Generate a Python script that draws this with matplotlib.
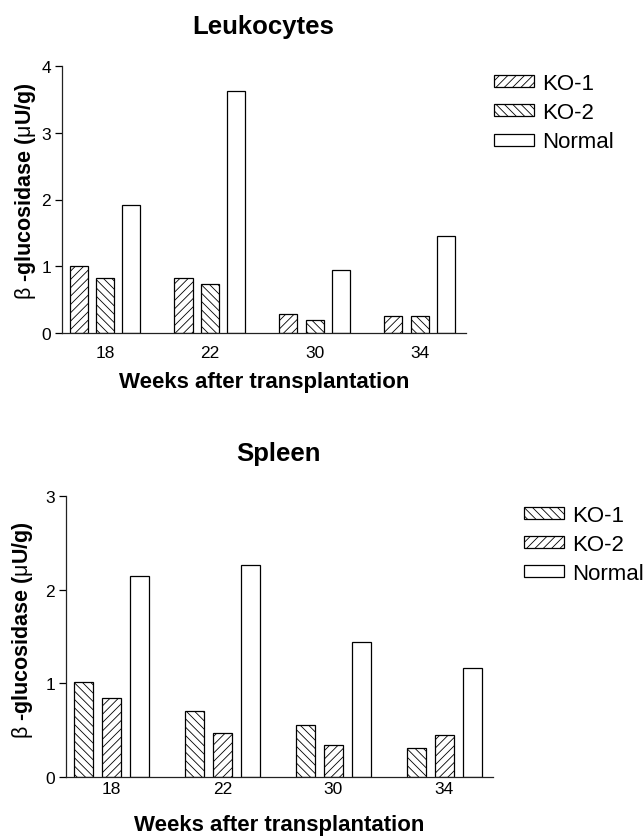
import matplotlib
matplotlib.use("Agg")
import matplotlib.pyplot as plt
import numpy as np

plt.rcParams['font.family'] = ['Liberation Sans', 'DejaVu Sans']
plt.rcParams['mathtext.fontset'] = 'custom'
plt.rcParams['mathtext.rm'] = 'Liberation Sans'
plt.rcParams['hatch.linewidth'] = 0.6
plt.rcParams['hatch.color'] = '#444444'

weeks = ['18', '22', '30', '34']

# Leukocytes
leuko_ko1 = [1.00, 0.82, 0.29, 0.26]
leuko_ko2 = [0.83, 0.74, 0.20, 0.26]
leuko_normal = [1.92, 3.62, 0.95, 1.45]

# Spleen
spleen_ko1 = [1.02, 0.71, 0.56, 0.31]
spleen_ko2 = [0.84, 0.47, 0.34, 0.45]
spleen_normal = [2.14, 2.26, 1.44, 1.16]

W, H = 644, 837
fig = plt.figure(figsize=(W / 100, H / 100), dpi=100)

ylab = r'$\mathrm{\beta}$ -glucosidase ($\mathrm{\mu}$U/g)'


def panel(ax, title, ko1, ko2, normal, h1, h2, ymax, title_xy, leg_xy,
          ylab_xy, xpad, xlabpad):
    x = np.arange(len(weeks))
    step, w = 0.252, 0.172
    kw = dict(width=w, edgecolor='black', linewidth=0.9)
    ax.bar(x - step, ko1, facecolor='white', hatch=h1, label='KO-1', **kw)
    ax.bar(x, ko2, facecolor='white', hatch=h2, label='KO-2', **kw)
    ax.bar(x + step, normal, facecolor='white', label='Normal', **kw)
    ax.set_xlim(-0.41, 3.44)
    ax.set_ylim(0, ymax)
    ax.set_yticks(range(ymax + 1))
    ax.set_xticks(x)
    ax.set_xticklabels(weeks)
    for s in ['top', 'right']:
        ax.spines[s].set_visible(False)
    for s in ['left', 'bottom']:
        ax.spines[s].set_linewidth(0.9)
        ax.spines[s].set_color('#222222')
    ax.tick_params(axis='y', length=5, width=0.9, labelsize=12.5, pad=3)
    ax.tick_params(axis='x', length=0, labelsize=12.5, pad=xpad)
    ax.set_xlabel('Weeks after transplantation', fontsize=16,
                  fontweight='bold', labelpad=xlabpad)
    ax.set_ylabel(ylab, fontsize=15.5, fontweight='bold')
    ax.yaxis.set_label_coords(*ylab_xy)
    fig.text(title_xy[0] / W, 1 - title_xy[1] / H, title,
             ha='center', va='baseline', fontsize=18.5, fontweight='bold')
    ax.legend(loc='upper left', bbox_to_anchor=(leg_xy[0] / W, 1 - leg_xy[1] / H),
              bbox_transform=fig.transFigure, frameon=False, fontsize=16,
              handlelength=1.8, handleheight=0.45, handletextpad=0.36,
              labelspacing=0.37, borderpad=0, borderaxespad=0)


ax1 = fig.add_axes([62 / W, 1 - 334 / H, 404 / W, 267 / H])
panel(ax1, 'Leukocytes', leuko_ko1, leuko_ko2, leuko_normal, '////', '\\\\\\\\', 4,
      (263.5, 34), (494, 74), (-0.0594, 0.534), 8.5, 8)

ax2 = fig.add_axes([66 / W, 1 - 778.3 / H, 427 / W, 281.6 / H])
panel(ax2, 'Spleen', spleen_ko1, spleen_ko2, spleen_normal, '\\\\\\\\', '////', 3,
      (278.5, 461), (524, 505.5), (-0.0726, 0.527), 2.5, 13)

fig.savefig('out.png', dpi=100)
